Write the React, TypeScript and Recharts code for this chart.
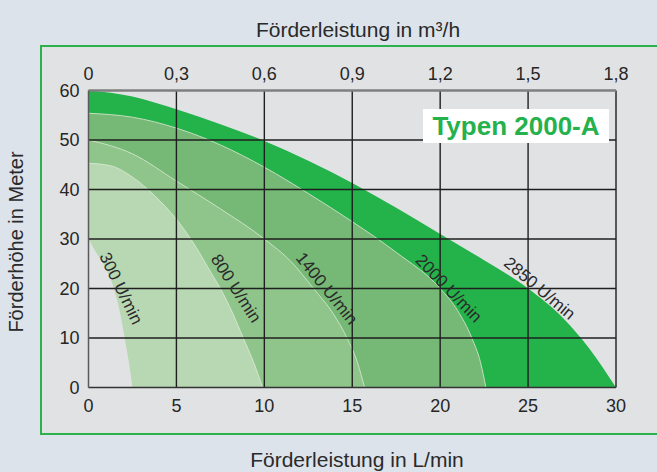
import { Area, ComposedChart, ReferenceDot, ReferenceLine, XAxis, YAxis } from "recharts";

// Förderleistung (L/min) / Förderhöhe (m) per speed
const Q_2850 = [0, 2.5, 5, 7.5, 10, 12.5, 15, 17.5, 20, 22.5, 25, 27, 28.5, 30];
const H_2850 = [60, 58.8, 56.2, 53.2, 49.8, 45.8, 41.3, 36.3, 31, 25.7, 20, 14, 7.8, 0];
const Q_2000 = [0, 2.5, 5, 7.5, 10, 12.5, 15, 17.5, 20, 21, 21.8, 22.3, 22.6];
const H_2000 = [55.4, 54.6, 52.4, 49, 44.5, 39.2, 33.5, 27.3, 20, 15.5, 10, 5, 0];
const Q_1400 = [0, 2.5, 5, 7.5, 10, 11.5, 12.8, 13.9, 14.7, 15.3, 15.7];
const H_1400 = [50, 47.2, 41.7, 36.1, 30, 25.5, 20, 15, 10, 5, 0];
const Q_800 = [0, 1.25, 2.5, 3.75, 5, 6, 7, 7.5, 8.2, 8.8, 9.4, 9.9];
const H_800 = [45.3, 44.8, 42.5, 38.8, 34, 29, 23, 20, 15, 10, 5, 0];
const Q_300 = [0, 0.4, 0.83, 1.45, 1.8, 2.06, 2.3, 2.5];
const H_300 = [30, 27.5, 25, 20, 15, 10, 5, 0];

const X_TICKS = [0, 5, 10, 15, 20, 25, 30];
// m³/h at the same positions (L/min × 0.06)
const TOP_TICK_LABELS = ["0", "0,3", "0,6", "0,9", "1,2", "1,5", "1,8"];
const Y_TICKS = [0, 10, 20, 30, 40, 50, 60];

const LABELS = ["300 U/min", "800 U/min", "1400 U/min", "2000 U/min", "2850 U/min"];
const LABEL_Q = [1.84, 8.38, 13.54, 20.48, 25.65];
const LABEL_H = [20, 20, 20, 20, 20];
const LABEL_ANGLE = [64, 57, 51, 46, 40];

const SERIES = [
  { key: "s2850", q: Q_2850, h: H_2850, fill: "#24b24b", stroke: "none" },
  { key: "s2000", q: Q_2000, h: H_2000, fill: "#76b875", stroke: "#c3dfbf" },
  { key: "s1400", q: Q_1400, h: H_1400, fill: "#8fc58b", stroke: "#c8e2c4" },
  { key: "s800", q: Q_800, h: H_800, fill: "#b8d7b3", stroke: "#d2e7ce" },
  { key: "s300", q: Q_300, h: H_300, fill: "#e1e2e4", stroke: "none" },
];

const rows: Record<string, number>[] = [];
SERIES.forEach((s) => s.q.forEach((q, i) => rows.push({ q, [s.key]: s.h[i] })));
rows.sort((a, b) => a.q - b.q);

const FONT = '"Liberation Sans", Arial, Helvetica, sans-serif';
const TICK = { fill: "#262626", fontSize: 18, fontFamily: FONT };
const GRID = "#1f1f1f";

export default function App() {
  return (
    <div
      style={{
        position: "absolute",
        left: 0,
        top: 0,
        width: 657,
        height: 472,
        overflow: "hidden",
        background: "#dce3ea",
        fontFamily: FONT,
        color: "#2a2a2a",
      }}
    >
      <div
        style={{
          position: "absolute",
          left: 40,
          top: 45,
          width: 660,
          height: 390,
          boxSizing: "border-box",
          border: "2px solid #2bb24c",
          background: "#e1e2e4",
        }}
      />
      <div
        style={{
          position: "absolute",
          left: 358,
          top: 30,
          transform: "translate(-50%, -50%)",
          fontSize: 21,
          whiteSpace: "nowrap",
        }}
      >
        Förderleistung in m³/h
      </div>
      <div
        style={{
          position: "absolute",
          left: 357,
          top: 460,
          transform: "translate(-50%, -50%)",
          fontSize: 21,
          whiteSpace: "nowrap",
        }}
      >
        Förderleistung in L/min
      </div>
      <div
        style={{
          position: "absolute",
          left: 16,
          top: 242,
          transform: "translate(-50%, -50%) rotate(-90deg)",
          fontSize: 20,
          whiteSpace: "nowrap",
        }}
      >
        Förderhöhe in Meter
      </div>
      <div style={{ position: "absolute", left: 0, top: 0 }}>
        <ComposedChart
          width={657}
          height={472}
          data={rows}
          margin={{ top: 60.5, right: 41, bottom: 54.5, left: 40 }}
        >
          <XAxis
            xAxisId="bottom"
            dataKey="q"
            type="number"
            domain={[0, 30]}
            ticks={X_TICKS}
            allowDataOverflow
            height={30}
            tick={TICK}
            tickLine={false}
            tickSize={6}
            tickMargin={6}
            axisLine={{ stroke: "#333", strokeWidth: 1.5 }}
          />
          <XAxis
            xAxisId="top"
            dataKey="q"
            orientation="top"
            type="number"
            domain={[0, 30]}
            ticks={X_TICKS}
            tickFormatter={(_v: number, i: number) => TOP_TICK_LABELS[i]}
            allowDataOverflow
            height={30}
            tick={TICK}
            tickLine={false}
            tickSize={6}
            tickMargin={5}
            axisLine={{ stroke: "#7f7f7f", strokeWidth: 2.5 }}
          />
          <YAxis
            type="number"
            domain={[0, 60]}
            ticks={Y_TICKS}
            allowDataOverflow
            width={48.5}
            tick={TICK}
            tickLine={false}
            tickSize={6}
            tickMargin={3}
            axisLine={{ stroke: "#5a5a5a", strokeWidth: 1.5 }}
          />
          {SERIES.map((s) => (
            <Area
              key={s.key}
              xAxisId="bottom"
              dataKey={s.key}
              type="monotone"
              connectNulls
              fill={s.fill}
              fillOpacity={1}
              stroke={s.stroke}
              strokeWidth={1}
              dot={false}
              activeDot={false}
              isAnimationActive={false}
            />
          ))}
          {X_TICKS.filter((v) => v > 0).map((v) => (
            <ReferenceLine key={`x${v}`} xAxisId="bottom" x={v} stroke={GRID} strokeWidth={1.4} />
          ))}
          {Y_TICKS.filter((v) => v > 0 && v < 60).map((v) => (
            <ReferenceLine key={`y${v}`} xAxisId="bottom" y={v} stroke={GRID} strokeWidth={1.4} />
          ))}
          {LABELS.map((label, i) => (
            <ReferenceDot
              key={label}
              xAxisId="bottom"
              x={LABEL_Q[i]}
              y={LABEL_H[i]}
              r={0}
              shape={(p: any) => (
                <text
                  x={p.cx}
                  y={p.cy}
                  fill="#2a2a2a"
                  fontSize={17}
                  fontFamily={FONT}
                  textAnchor="middle"
                  dominantBaseline="central"
                  transform={`rotate(${LABEL_ANGLE[i]} ${p.cx} ${p.cy})`}
                >
                  {label}
                </text>
              )}
            />
          ))}
        </ComposedChart>
      </div>
      <div
        style={{
          position: "absolute",
          left: 423,
          top: 109,
          width: 186,
          height: 34,
          background: "#fff",
          color: "#25b14c",
          fontWeight: "bold",
          fontSize: 26,
          lineHeight: "34px",
          textAlign: "center",
          whiteSpace: "nowrap",
        }}
      >
        Typen 2000-A
      </div>
    </div>
  );
}
